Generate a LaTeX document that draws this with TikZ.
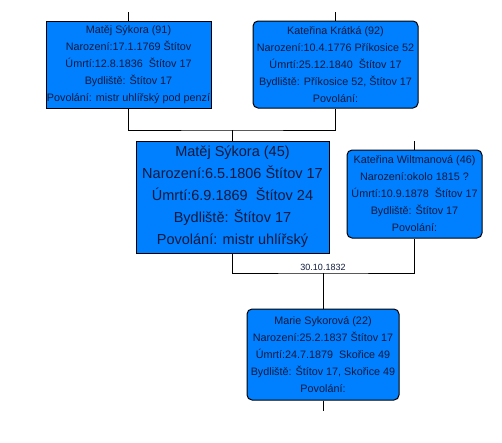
\documentclass[tikz,border=0pt]{standalone}
\usepackage{fontspec}
\setmainfont{Liberation Sans}
\usetikzlibrary{positioning}
\definecolor{boxblue}{RGB}{0,128,255}
\definecolor{textnavy}{RGB}{15,25,60}

\begin{document}
\begin{tikzpicture}[x=1pt,y=-1pt,
every node/.style={text=textnavy,align=center,inner sep=0pt},
person/.style={draw=black,fill=boxblue,line width=1pt,
font=\fontsize{10.8}{17}\selectfont},
bigperson/.style={person,font=\fontsize{14.5}{22}\selectfont},
roundbox/.style={rounded corners=5pt}]
\useasboundingbox (0,0) rectangle (502,442);
\node[person,minimum width=165,minimum height=87] (m91) at (128.5,64.5)
{Matěj Sýkora (91)\\Narození:17.1.1769 Štítov\\Úmrtí:12.8.1836\ \ Štítov 17\\Bydliště: Štítov 17\\Povolání: mistr uhlířský pod penzí};
\node[person,roundbox,minimum width=165,minimum height=87] (k92) at (335.5,64.5)
{Kateřina Krátká (92)\\Narození:10.4.1776 Příkosice 52\\Úmrtí:25.12.1840\ \ Štítov 17\\Bydliště: Příkosice 52, Štítov 17\\Povolání:};
\node[bigperson,minimum width=193,minimum height=112] (m45) at (232.5,197)
{Matěj Sýkora (45)\\Narození:6.5.1806 Štítov 17\\Úmrtí:6.9.1869\ \ Štítov 24\\Bydliště: Štítov 17\\Povolání: mistr uhlířský};
\node[person,roundbox,minimum width=135,minimum height=88] (kw46) at (414.5,194)
{Kateřina Wiltmanová (46)\\Narození:okolo 1815 ?\\Úmrtí:10.9.1878\ \ Štítov 17\\Bydliště: Štítov 17\\Povolání:};
\node[person,roundbox,minimum width=152,minimum height=91] (ms22) at (323,354.5)
{Marie Sykorová (22)\\Narození:25.2.1837 Štítov 17\\Úmrtí:24.7.1879\ \ Skořice 49\\Bydliště: Štítov 17, Skořice 49\\Povolání:};
\coordinate (m91up) at (128.5,12);
\coordinate (k92up) at (335.5,12);
\coordinate (kw46up) at (414.5,141);
\coordinate (ms22down) at (323,411);
\coordinate (j1) at (232.5,130);
\coordinate (j2) at (323,273);
\node[font=\fontsize{9}{10}\selectfont,above=2pt of j2] (date) {30.10.1832};
\draw[line width=1pt] (m91.north) -- (m91up);
\draw[line width=1pt] (k92.north) -- (k92up);
\draw[line width=1pt] (kw46.north) -- (kw46up);
\draw[line width=1pt] (ms22.south) -- (ms22down);
\draw[line width=1pt] (m91.south) |- (j1) -| (k92.south);
\draw[line width=1pt] (j1) -- (m45.north);
\draw[line width=1pt] (m45.south) |- (j2) -| (kw46.south);
\draw[line width=1pt] (j2) -- (ms22.north);
\end{tikzpicture}
\end{document}
